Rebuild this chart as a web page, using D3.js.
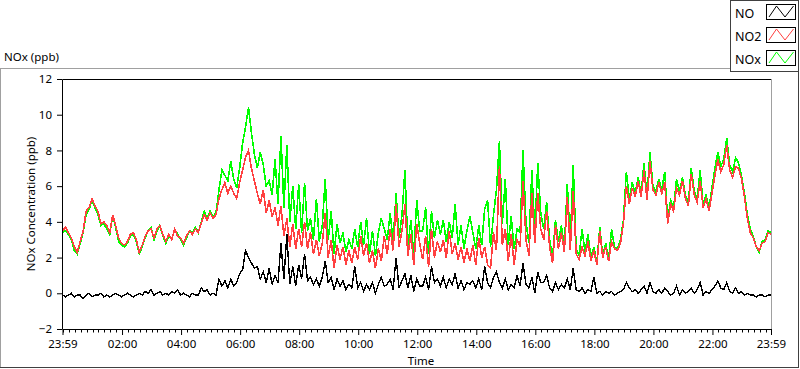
<!DOCTYPE html>
<html><head><meta charset="utf-8">
<script src="https://cdnjs.cloudflare.com/ajax/libs/d3/7.8.5/d3.min.js"></script>
<style>html,body{margin:0;padding:0;background:#fff;overflow:hidden}</style>
</head><body><svg id="c" width="800" height="369"></svg>
<script>
// sample spacing (minutes) starting at 23:59
const stepMinutes = 6;

const no2 = [
3.5,3.7,3.4,3.1,2.6,2.3,2.9,3.5,4.6,4.8,
5.3,4.9,4.6,3.9,4.0,3.8,3.4,4.4,3.8,3.1,
2.8,2.7,2.9,3.3,3.4,3.0,2.3,2.7,3.2,3.5,
3.6,3.1,3.6,3.8,3.3,2.9,3.3,3.0,3.6,3.2,
3.1,2.8,3.2,3.5,3.3,3.6,3.4,3.9,4.4,4.1,
4.5,4.2,4.4,5.3,5.8,6.2,5.6,6.0,5.6,5.3,
6.2,6.9,7.6,8.0,7.0,6.3,5.6,5.0,5.8,4.5,
5.2,4.3,4.8,3.8,4.9,3.2,4.2,2.6,3.9,2.5,
3.6,2.6,4.0,2.5,3.4,2.2,3.0,2.1,2.8,4.5,
2.0,3.0,1.4,2.7,1.9,2.6,1.6,2.4,1.7,2.6,
1.9,3.2,2.1,2.8,1.7,2.4,1.4,2.5,1.8,3.2,
2.2,3.6,2.4,5.0,2.6,3.5,5.0,2.1,3.3,1.6,
3.9,2.8,1.9,3.2,1.5,3.6,2.0,2.9,2.3,3.0,
2.0,3.5,2.2,2.8,1.9,2.6,1.7,2.5,1.8,2.7,
1.6,3.1,2.0,2.6,1.6,1.4,3.4,2.4,7.1,2.7,
3.6,1.8,3.3,1.6,3.0,2.6,6.3,3.0,2.1,5.6,
2.8,5.6,3.6,3.0,4.6,2.6,1.7,3.8,2.5,3.4,
2.3,5.4,2.4,5.7,2.2,1.9,2.6,2.1,2.9,1.8,
2.4,1.6,3.5,2.0,2.6,1.8,2.9,2.5,2.4,2.8,
3.9,6.0,5.0,5.9,5.4,6.3,5.4,6.9,5.2,7.4,
5.8,5.5,6.2,5.6,6.2,3.9,5.0,4.6,5.9,5.5,
6.3,5.3,4.9,6.7,5.5,5.1,6.3,4.8,5.3,4.6,
5.6,6.6,7.5,6.8,7.2,8.3,6.9,6.5,7.1,7.0,
6.4,5.4,4.2,3.4,3.1,2.6,2.4,2.8,2.9,3.4,
3.3];

const nox = [
3.4,3.5,3.3,3.0,2.4,2.2,2.8,3.4,4.4,4.7,
5.2,4.8,4.4,3.8,3.9,3.6,3.3,4.3,3.7,2.9,
2.7,2.6,2.8,3.2,3.3,2.9,2.2,2.6,3.1,3.5,
3.7,3.0,3.5,3.8,3.2,2.8,3.2,3.0,3.6,3.3,
3.0,2.7,3.1,3.5,3.4,3.7,3.4,4.0,4.6,4.2,
4.6,4.3,4.5,5.8,6.9,6.6,6.3,7.4,6.4,5.9,
7.0,8.4,9.3,10.4,9.0,7.8,7.0,7.9,7.2,6.0,
6.3,5.5,7.5,5.0,8.8,4.8,8.3,4.0,6.0,3.6,
6.1,3.4,6.2,3.5,4.2,3.0,5.3,2.9,3.8,6.4,
3.0,4.6,2.2,3.9,2.8,3.4,2.3,3.0,2.5,3.6,
2.6,4.0,2.7,4.2,2.2,3.5,2.1,3.4,4.2,3.6,
3.0,4.5,2.9,5.6,3.1,4.4,6.9,2.6,4.1,2.2,
5.2,3.5,3.5,4.8,2.2,4.6,3.1,4.1,3.3,4.1,
2.9,4.0,3.1,5.0,2.7,3.8,2.5,3.5,4.3,3.4,
2.5,3.8,2.7,4.7,5.2,2.6,4.4,5.8,8.5,3.9,
6.4,2.7,4.3,2.5,3.6,3.4,8.0,4.0,2.8,6.9,
3.4,7.3,4.5,3.6,5.1,3.0,2.0,4.1,2.9,3.8,
2.6,6.1,2.9,7.2,2.5,2.1,3.6,2.3,3.3,2.0,
2.6,1.7,3.7,2.1,2.8,1.9,3.6,2.6,2.5,3.0,
4.1,6.8,5.3,6.2,5.6,6.5,5.6,7.3,5.4,7.9,
6.0,5.7,6.4,5.8,6.8,4.1,5.2,4.8,6.4,5.7,
6.5,5.5,5.1,7.0,5.7,5.3,6.9,5.0,5.5,4.8,
5.9,7.0,7.9,7.1,7.5,8.7,7.2,6.8,7.6,7.3,
6.6,5.6,4.4,3.6,3.2,2.6,2.3,2.9,3.0,3.5,
3.4];

const no = [
-0.1,-0.2,-0.1,0.0,-0.2,-0.1,-0.1,-0.3,-0.1,0.0,
-0.2,-0.1,-0.1,0.0,-0.2,-0.1,-0.2,-0.1,0.0,-0.1,
-0.2,-0.1,0.0,-0.1,-0.2,-0.1,0.0,-0.1,0.1,0.0,
0.2,-0.1,0.0,0.1,-0.1,0.0,-0.1,0.1,0.0,0.2,
-0.1,0.0,-0.1,-0.2,0.0,-0.1,-0.1,0.3,0.1,0.2,
-0.1,0.0,-0.1,0.8,0.4,0.7,0.3,0.8,0.4,0.6,
1.1,1.3,2.4,2.0,1.7,1.4,1.5,0.8,1.2,0.6,
1.4,0.5,1.0,0.6,2.8,0.8,3.3,0.5,1.5,0.4,
1.6,0.8,2.2,0.7,0.9,0.5,0.8,0.4,0.9,1.8,
0.6,0.9,0.2,0.8,0.4,0.7,0.2,0.5,0.3,1.5,
0.3,0.6,0.1,0.5,0.2,0.6,0.0,0.5,0.9,0.4,
0.5,0.8,0.2,2.0,0.3,0.7,1.1,0.3,1.0,0.1,
0.8,0.4,0.4,0.9,0.2,1.5,0.6,0.8,0.4,0.9,
0.3,0.8,0.5,1.1,0.3,0.7,0.2,0.6,0.5,0.7,
0.3,0.8,0.2,1.5,0.6,0.3,0.9,1.2,0.6,0.3,
0.8,0.2,0.5,0.3,1.0,0.4,1.7,0.5,0.3,0.9,
0.0,1.2,0.6,0.6,1.0,0.3,0.1,0.6,0.2,0.5,
0.3,0.8,0.2,1.4,0.2,0.1,0.3,0.0,0.2,0.1,
0.9,0.0,0.1,-0.1,0.1,0.0,0.1,-0.1,0.0,0.1,
0.2,0.6,0.3,0.1,0.2,0.0,0.2,0.4,0.0,0.6,
0.1,0.0,0.2,0.0,0.3,0.1,-0.1,0.0,0.4,-0.1,
0.2,0.0,0.1,0.3,0.0,0.2,0.6,-0.1,0.1,0.0,
0.2,0.4,0.7,0.3,0.2,0.6,0.1,0.0,0.3,0.0,
0.1,-0.1,0.0,-0.1,-0.1,-0.2,-0.1,-0.1,-0.2,-0.1,
-0.1];

const xTickLabels = ["23:59","02:00","04:00","06:00","08:00","10:00","12:00","14:00","16:00","18:00","20:00","22:00","23:59"];
const xTickMinutes = [0,121,241,361,481,601,721,841,961,1081,1201,1321,1440];
const yTicks = [-2,0,2,4,6,8,10,12];
const seriesNames = ["NO","NO2","NOx"];
const seriesColors = ["#000000","#ff4040","#00ff00"];

const FONT = "'Segoe UI','Noto Sans','Open Sans',sans-serif";
const svg = d3.select("#c");
svg.append("rect").attr("width",800).attr("height",369).attr("fill","#fff");

const L = 62.5, R = 771, T = 79, B = 329;
const x = d3.scaleLinear().domain([0,1440]).range([L,R]);
const y = d3.scaleLinear().domain([-2,12]).range([B,T]);

// outer frame
svg.append("path").attr("d","M0,68.5H731").attr("stroke","#a0a0a0").attr("fill","none");
svg.append("path").attr("d","M0.5,68V368").attr("stroke","#a0a0a0").attr("fill","none");
svg.append("path").attr("d","M0,367.5H799").attr("stroke","#404040").attr("fill","none");
svg.append("path").attr("d","M798.5,72V368").attr("stroke","#404040").attr("fill","none");

svg.append("text").attr("x",4).attr("y",61).attr("font-family",FONT).attr("font-size",11.5)
  .attr("fill","#000").text("NOx (ppb)");

// legend
const lg = svg.append("g");
lg.append("rect").attr("x",730.5).attr("y",0.5).attr("width",68).attr("height",71)
  .attr("fill","#fff").attr("stroke","#404040");
seriesNames.forEach((n,k)=>{
  const yy = 4 + 23*k;
  lg.append("text").attr("x",735).attr("y",yy+13.5).attr("font-family",FONT).attr("font-size",12.5)
    .attr("fill","#000").text(n);
  lg.append("rect").attr("x",766.5).attr("y",yy+0.5).attr("width",29).attr("height",15)
    .attr("fill","#fff").attr("stroke","#000");
  lg.append("path").attr("d",`M769,${yy+13}L776.5,${yy+2}L785,${yy+13}L793.5,${yy+2}`)
    .attr("fill","none").attr("stroke",seriesColors[k]).attr("stroke-width",1);
});

// plot borders
svg.append("path").attr("d",`M${L},${T+0.5}H${R}`).attr("stroke","#000").attr("fill","none");
svg.append("path").attr("d",`M${R+0.5},${T}V${B}`).attr("stroke","#a0a0a0").attr("fill","none");

// data
const series = [
  {values:nox, color:seriesColors[2], w:1.6},
  {values:no2, color:seriesColors[1], w:1.6},
  {values:no,  color:seriesColors[0], w:1.4}
];
const line = d3.line().x((d,i)=>x(i*stepMinutes)).y(d=>y(d));
const gData = svg.append("g");
series.forEach(s=>{
  gData.append("path").datum(s.values).attr("d",line).attr("fill","none")
    .attr("stroke",s.color).attr("stroke-width",s.w).attr("stroke-linejoin","miter")
    .attr("shape-rendering","crispEdges");
});

// axes
const yAxis = d3.axisLeft(y).tickValues(yTicks).tickSize(5).tickPadding(5).tickSizeOuter(0);
const gy = svg.append("g").attr("transform",`translate(${L-0.5},0)`).call(yAxis);
const xAxis = d3.axisBottom(x).tickValues(xTickMinutes).tickFormat((d,i)=>xTickLabels[i])
  .tickSize(6).tickPadding(5).tickSizeOuter(0);
const gx = svg.append("g").attr("transform",`translate(0,${B})`).call(xAxis);
[gx,gy].forEach(g=>{
  g.attr("font-family",FONT).attr("font-size",11.5);
  g.selectAll("path.domain").attr("stroke","#000");
  g.selectAll("line").attr("stroke","#000");
  g.selectAll("text").attr("fill","#000");
});
// minor ticks every 12 minutes from 00:00
const minor = d3.range(120).map(k=>1+12*k).filter(m=>!xTickMinutes.includes(m));
svg.append("g").selectAll("line").data(minor).join("line")
  .attr("x1",d=>Math.round(x(d))+0.5).attr("x2",d=>Math.round(x(d))+0.5)
  .attr("y1",B+0.5).attr("y2",B+3.5).attr("stroke","#000");

svg.append("text").attr("x",421).attr("y",365).attr("text-anchor","middle")
  .attr("font-family",FONT).attr("font-size",11.5).attr("fill","#000").text("Time");
svg.append("text").attr("transform","translate(35,204) rotate(-90)").attr("text-anchor","middle")
  .attr("font-family",FONT).attr("font-size",11.5).attr("fill","#000").text("NOx Concentration (ppb)");
</script></body></html>
